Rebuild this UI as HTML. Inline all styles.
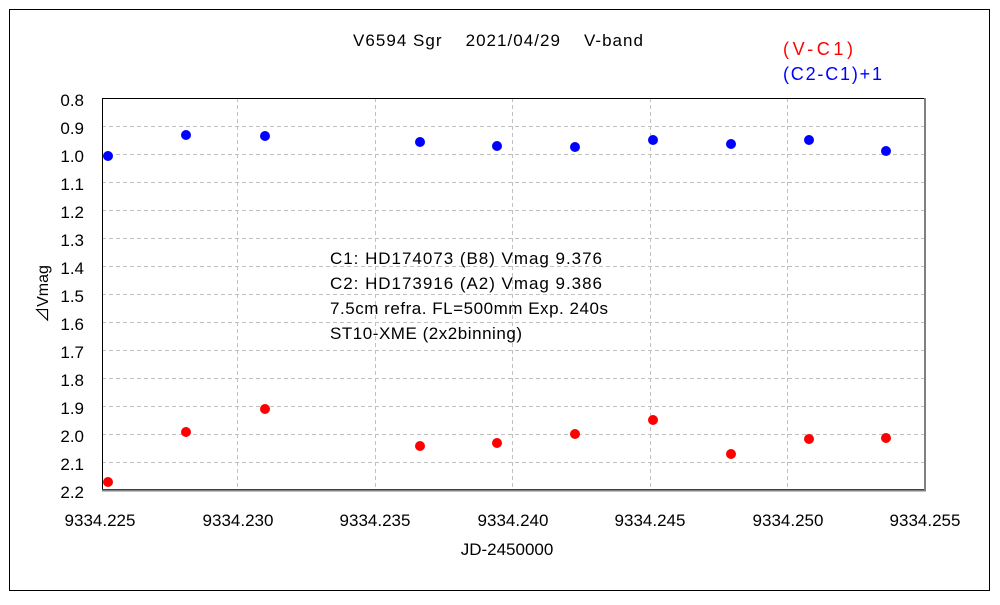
<!DOCTYPE html>
<html><head><meta charset="utf-8"><style>
html,body{margin:0;padding:0;background:#fff;}
svg text{font-family:"Liberation Sans","Noto Sans CJK JP",sans-serif;}
</style></head><body>
<svg width="1000" height="600" xmlns="http://www.w3.org/2000/svg">
<rect x="9.5" y="9.5" width="980" height="581" fill="#fff" stroke="#000" stroke-width="1"/>
<g stroke="#c0c0c0" stroke-dasharray="4,3" stroke-width="1">
<line x1="102" x2="925" y1="126.5" y2="126.5"/><line x1="102" x2="925" y1="154.5" y2="154.5"/>
<line x1="102" x2="925" y1="182.5" y2="182.5"/><line x1="102" x2="925" y1="210.5" y2="210.5"/>
<line x1="102" x2="925" y1="238.5" y2="238.5"/><line x1="102" x2="925" y1="266.5" y2="266.5"/>
<line x1="102" x2="925" y1="294.5" y2="294.5"/><line x1="102" x2="925" y1="322.5" y2="322.5"/>
<line x1="102" x2="925" y1="350.5" y2="350.5"/><line x1="102" x2="925" y1="378.5" y2="378.5"/>
<line x1="102" x2="925" y1="406.5" y2="406.5"/><line x1="102" x2="925" y1="434.5" y2="434.5"/>
<line x1="102" x2="925" y1="462.5" y2="462.5"/>
<line x1="237.5" x2="237.5" y1="98" y2="490"/><line x1="375.5" x2="375.5" y1="98" y2="490"/>
<line x1="512.5" x2="512.5" y1="98" y2="490"/><line x1="650.5" x2="650.5" y1="98" y2="490"/>
<line x1="787.5" x2="787.5" y1="98" y2="490"/>
</g>
<rect x="102.5" y="98.5" width="822" height="391" fill="none" stroke="#000" stroke-width="1"/>
<line x1="925" y1="98" x2="925" y2="491" stroke="#808080" stroke-width="2"/>
<line x1="102" y1="490.5" x2="926" y2="490.5" stroke="#808080" stroke-width="2"/>
<g font-size="17" fill="#000" text-anchor="end">
<text x="84" y="106">0.8</text><text x="84" y="134">0.9</text><text x="84" y="162">1.0</text>
<text x="84" y="190">1.1</text><text x="84" y="218">1.2</text><text x="84" y="246">1.3</text>
<text x="84" y="274">1.4</text><text x="84" y="302">1.5</text><text x="84" y="330">1.6</text>
<text x="84" y="358">1.7</text><text x="84" y="386">1.8</text><text x="84" y="414">1.9</text>
<text x="84" y="442">2.0</text><text x="84" y="470">2.1</text><text x="84" y="498">2.2</text>
</g>
<g font-size="17" fill="#000" text-anchor="middle">
<text x="100" y="526">9334.225</text><text x="238" y="526">9334.230</text>
<text x="375" y="526">9334.235</text><text x="513" y="526">9334.240</text>
<text x="650" y="526">9334.245</text><text x="788" y="526">9334.250</text>
<text x="925" y="526">9334.255</text>
<text x="507" y="555">JD-2450000</text>
</g>
<text x="353" y="46" font-size="17" textLength="290" lengthAdjust="spacing" xml:space="preserve">V6594 Sgr    2021/04/29    V-band</text>
<text x="48" y="294" font-size="16" text-anchor="middle" transform="rotate(-90 48 294)">⊿Vmag</text>
<text x="783" y="55" font-size="18" fill="#ff0000" textLength="70">(V-C1)</text>
<text x="783" y="80" font-size="18" fill="#0000ff" textLength="99">(C2-C1)+1</text>
<g font-size="17" fill="#000">
<text x="330" y="264" textLength="272">C1: HD174073 (B8) Vmag 9.376</text>
<text x="330" y="289" textLength="272">C2: HD173916 (A2) Vmag 9.386</text>
<text x="330" y="314" textLength="278">7.5cm refra. FL=500mm  Exp. 240s</text>
<text x="330" y="339" textLength="192">ST10-XME (2x2binning)</text>
</g>
<g fill="#0000ff">
<circle cx="108" cy="156" r="5"/><circle cx="186" cy="135" r="5"/><circle cx="265" cy="136" r="5"/>
<circle cx="420" cy="142" r="5"/><circle cx="497" cy="146" r="5"/><circle cx="575" cy="147" r="5"/>
<circle cx="653" cy="140" r="5"/><circle cx="731" cy="144" r="5"/><circle cx="809" cy="140" r="5"/>
<circle cx="886" cy="151" r="5"/>
</g>
<g fill="#ff0000">
<circle cx="108" cy="482" r="5"/><circle cx="186" cy="432" r="5"/><circle cx="265" cy="409" r="5"/>
<circle cx="420" cy="446" r="5"/><circle cx="497" cy="443" r="5"/><circle cx="575" cy="434" r="5"/>
<circle cx="653" cy="420" r="5"/><circle cx="731" cy="454" r="5"/><circle cx="809" cy="439" r="5"/>
<circle cx="886" cy="438" r="5"/>
</g>
</svg>
</body></html>
